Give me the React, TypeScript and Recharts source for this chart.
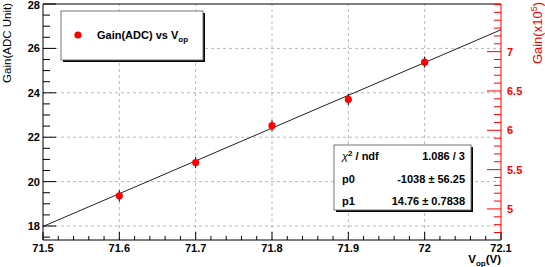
import React from 'react';
import { ComposedChart, Scatter, XAxis, YAxis, ReferenceLine, ErrorBar } from 'recharts';

// measured points: operating voltage vs gain (ADC units)
const VOP = [71.6, 71.7, 71.8, 71.9, 72.0];
const GAIN_ADC = [19.36, 20.86, 22.52, 23.7, 25.38];
const GAIN_ERR = [0.25, 0.25, 0.25, 0.25, 0.25];

// linear fit endpoints (p0 + p1 * x)
const FIT_X = [71.5, 72.1];
const FIT_Y = [17.98, 26.84];

const X_MAJOR = [71.5, 71.6, 71.7, 71.8, 71.9, 72.0, 72.1];
const Y_MAJOR = [18, 20, 22, 24, 26, 28];
const R_MAJOR = [5, 5.5, 6, 6.5, 7];

const X_DOMAIN: [number, number] = [71.5, 72.1];
const Y_DOMAIN: [number, number] = [17.37, 28];
const R_DOMAIN: [number, number] = [4.605, 7.606];

const FONT = '"Liberation Sans", Arial, Helvetica, sans-serif';
const RED = '#ff0000';

function steps(start: number, end: number, step: number) {
  const out: number[] = [];
  for (let v = start; v <= end + 1e-9; v += step) out.push(Math.round(v * 1000) / 1000);
  return out;
}

const isMajor = (list: number[], v: number) => list.some((m) => Math.abs(m - v) < 1e-6);

const points = VOP.map((x, i) => ({ x, y: GAIN_ADC[i], err: GAIN_ERR[i] }));
const fit = FIT_X.map((x, i) => ({ x, y: FIT_Y[i] }));

const XTick = ({ x, y, payload }: any) => {
  const v = payload.value;
  const major = isMajor(X_MAJOR, v);
  return (
    <g>
      <line x1={x} x2={x} y1={y} y2={y - (major ? 8 : 4)} stroke="#000" />
      {major && (
        <text x={x} y={y + 12} textAnchor="middle" fontSize={11} fontWeight="bold" fontFamily={FONT} fill="#000">
          {String(v)}
        </text>
      )}
    </g>
  );
};

const YTick = ({ x, y, payload }: any) => {
  const v = payload.value;
  const major = isMajor(Y_MAJOR, v);
  return (
    <g>
      <line x1={x} x2={x + (major ? 13 : 7)} y1={y} y2={y} stroke="#000" />
      {major && (
        <text x={x - 3} y={Math.max(y, 5)} dy="0.36em" textAnchor="end" fontSize={11} fontWeight="bold" fontFamily={FONT} fill="#000">
          {String(v)}
        </text>
      )}
    </g>
  );
};

const RTick = ({ x, y, payload }: any) => {
  const v = payload.value;
  const major = isMajor(R_MAJOR, v);
  return (
    <g>
      <line x1={x} x2={x - (major ? 14 : 7)} y1={y} y2={y} stroke={RED} />
      {major && (
        <text x={x + 6} y={y} dy="0.36em" textAnchor="start" fontSize={11} fontWeight="bold" fontFamily={FONT} fill={RED}>
          {String(v)}
        </text>
      )}
    </g>
  );
};

const Dot = (props: any) => <circle cx={props.cx} cy={props.cy} r={3.6} fill={RED} />;
const NoDot = () => <g />;

function Box({ x, y, w, h }: { x: number; y: number; w: number; h: number }) {
  return (
    <g>
      <rect x={x + 2} y={y + 2} width={w} height={h} fill="#000" />
      <rect x={x} y={y} width={w} height={h} fill="#fff" stroke="#777" strokeWidth={1} />
    </g>
  );
}

export default function App() {
  const grid = { stroke: '#b8b8b8', strokeDasharray: '3 3', strokeWidth: 1 };
  return (
    <div style={{ position: 'relative', width: 545, height: 267, background: '#fff' }}>
      <style>{'body{margin:0;background:#fff}'}</style>
      <ComposedChart width={545} height={267} margin={{ top: 4, right: 0, bottom: 0, left: 0 }}>
        <XAxis
          type="number"
          dataKey="x"
          domain={X_DOMAIN}
          allowDataOverflow
          ticks={steps(71.5, 72.1, 0.02)}
          interval={0}
          tick={<XTick />}
          tickLine={false}
          tickSize={0}
          tickMargin={0}
          height={27}
          axisLine={{ stroke: '#000' }}
        />
        <YAxis
          yAxisId="left"
          type="number"
          dataKey="y"
          domain={Y_DOMAIN}
          allowDataOverflow
          ticks={steps(17.5, 28, 0.5)}
          interval={0}
          tick={<YTick />}
          tickLine={false}
          tickSize={0}
          tickMargin={0}
          width={43}
          axisLine={{ stroke: '#000' }}
        />
        <YAxis
          yAxisId="right"
          orientation="right"
          type="number"
          domain={R_DOMAIN}
          allowDataOverflow
          ticks={steps(4.7, 7.6, 0.1)}
          interval={0}
          tick={<RTick />}
          tickLine={false}
          tickSize={0}
          tickMargin={0}
          width={44}
          axisLine={{ stroke: RED }}
        />
        {X_MAJOR.slice(1, -1).map((v) => (
          <ReferenceLine key={'gx' + v} x={v} yAxisId="left" {...grid} />
        ))}
        {Y_MAJOR.slice(0, -1).map((v) => (
          <ReferenceLine key={'gy' + v} y={v} yAxisId="left" {...grid} />
        ))}
        <ReferenceLine y={28} yAxisId="left" stroke="#000" />
        <Scatter
          yAxisId="left"
          data={fit}
          dataKey="y"
          line={{ stroke: '#222', strokeWidth: 1 }}
          shape={<NoDot />}
          isAnimationActive={false}
        />
        <Scatter yAxisId="left" data={points} dataKey="y" shape={<Dot />} isAnimationActive={false}>
          <ErrorBar dataKey="err" direction="y" width={0} stroke="#000" strokeWidth={1} />
        </Scatter>
      </ComposedChart>
      <svg width={545} height={267} style={{ position: 'absolute', left: 0, top: 0, pointerEvents: 'none' }} fontFamily={FONT}>
        <text transform="translate(10.5,3) rotate(-90)" textAnchor="end" fontSize={11.5} fill="#000">
          Gain(ADC Unit)
        </text>
        <text transform="translate(542,2) rotate(-90)" textAnchor="end" fontSize={13} fill={RED}>
          Gain(x10<tspan dy={-5} fontSize={9}>5</tspan>
          <tspan dy={5}>)</tspan>
        </text>
        <text x={501} y={263} textAnchor="end" fontSize={11.5} fontWeight="bold" fill="#000">
          V<tspan dy={3} fontSize={8}>op</tspan>
          <tspan dy={-3}>(V)</tspan>
        </text>

        <Box x={61} y={11} w={142} h={49} />
        <circle cx={78} cy={35} r={3.6} fill={RED} />
        <text x={97} y={39} fontSize={11} fontWeight="bold" fill="#000">
          Gain(ADC) vs V<tspan dy={3} fontSize={8}>op</tspan>
        </text>

        <Box x={334} y={145} w={137} h={65} />
        <g fontSize={11} fontWeight="bold" fill="#000">
          <text x={342} y={160}>
            <tspan fontWeight="normal" fontStyle="italic">χ</tspan>
            <tspan dy={-4} fontSize={8}>2</tspan>
            <tspan dy={4}> / ndf</tspan>
          </text>
          <text x={465} y={160} textAnchor="end">1.086 / 3</text>
          <text x={342} y={183}>p0</text>
          <text x={465} y={183} textAnchor="end">-1038 ± 56.25</text>
          <text x={342} y={205}>p1</text>
          <text x={465} y={205} textAnchor="end">14.76 ± 0.7838</text>
        </g>
      </svg>
    </div>
  );
}
